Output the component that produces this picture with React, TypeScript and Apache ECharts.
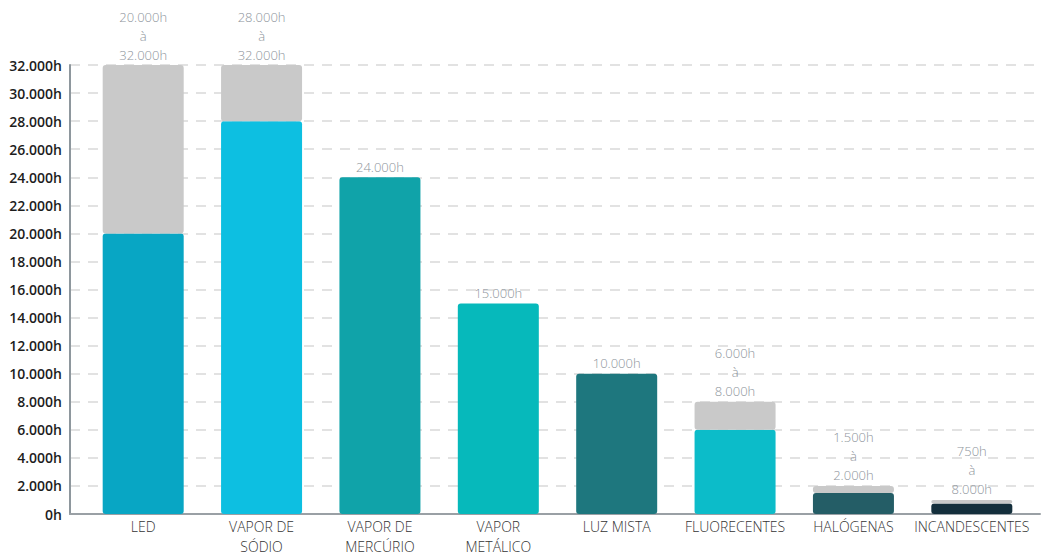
import React, { useEffect, useRef } from "react";
import * as echarts from "echarts";

const categories = ["LED", "VAPOR DE\nSÓDIO", "VAPOR DE\nMERCÚRIO", "VAPOR\nMETÁLICO", "LUZ MISTA", "FLUORECENTES", "HALÓGENAS", "INCANDESCENTES"];
const baseValues = [20000, 28000, 24000, 15000, 10000, 6000, 1500, 750];
const maxValues = [32000, 32000, 24000, 15000, 10000, 8000, 2000, 1000];
const barLabels = [
  "20.000h\nà\n32.000h",
  "28.000h\nà\n32.000h",
  "24.000h",
  "15.000h",
  "10.000h",
  "6.000h\nà\n8.000h",
  "1.500h\nà\n2.000h",
  "750h\nà\n8.000h",
];
const barColors = ["#08A6C4", "#0DBFE1", "#10A3A9", "#06B9BB", "#1E777E", "#0CBCC9", "#245D66", "#142F3C"];
const rangeColor = "#C9C9C9";

const fmt = (v: number) => (v === 0 ? "0h" : v.toLocaleString("de-DE") + "h");

export default function App() {
  const ref = useRef<HTMLDivElement>(null);
  useEffect(() => {
    const chart = echarts.init(ref.current!, null, { renderer: "svg" });
    const font = "'Open Sans', 'Noto Sans', sans-serif";
    chart.setOption({
      animation: false,
      grid: [
        { left: 70, right: 2, top: 65, bottom: 40, outerBoundsMode: "none", containLabel: false },
        { left: 84, right: 11, top: 65, bottom: 40, outerBoundsMode: "none", containLabel: false },
      ],
      xAxis: [
        {
          type: "category",
          gridIndex: 0,
          data: categories,
          axisLine: { lineStyle: { color: "#9AA0A5", width: 2 } },
          axisTick: { show: false },
          axisLabel: { show: false },
        },
        {
          type: "category",
          gridIndex: 1,
          data: categories,
          axisLine: { show: false },
          axisTick: { show: false },
          axisLabel: { interval: 0, color: "#333", fontSize: 14, fontFamily: font, fontWeight: 300, lineHeight: 20, margin: 2 },
        },
      ],
      yAxis: [
        {
          type: "value",
          gridIndex: 0,
          min: 0,
          max: 32000,
          interval: 2000,
          axisLine: { show: true, lineStyle: { color: "#8E979D", width: 2 } },
          axisTick: { show: false },
          axisLabel: { color: "#1d1d1d", fontSize: 14, fontWeight: 600, fontFamily: font, margin: 8, formatter: fmt },
          splitLine: { show: true, lineStyle: { color: "#E2E2E2", width: 2, type: [10, 8] } },
        },
        {
          type: "value",
          gridIndex: 1,
          min: 0,
          max: 32000,
          interval: 2000,
          axisLine: { show: false },
          axisTick: { show: false },
          axisLabel: { show: false },
          splitLine: { show: false },
        },
      ],
      series: [
        {
          type: "bar",
          xAxisIndex: 1,
          yAxisIndex: 1,
          stack: "a",
          barWidth: 81,
          data: baseValues.map((v, i) => ({ value: v, itemStyle: { color: barColors[i], borderRadius: 3 } })),
        },
        {
          type: "bar",
          xAxisIndex: 1,
          yAxisIndex: 1,
          stack: "a",
          barWidth: 81,
          data: maxValues.map((v, i) => ({ value: v - baseValues[i] })),
          itemStyle: { color: rangeColor, borderRadius: 3 },
          label: {
            show: true,
            position: "top",
            distance: 1,
            color: "#8D949B",
            fontSize: 13,
            fontFamily: font,
            fontWeight: 300,
            lineHeight: 19,
            formatter: (p: any) => barLabels[p.dataIndex],
          },
        },
      ],
    });
    return () => chart.dispose();
  }, []);
  return <div ref={ref} style={{ position: "absolute", left: 0, top: 0, width: 1042, height: 554 }} />;
}
